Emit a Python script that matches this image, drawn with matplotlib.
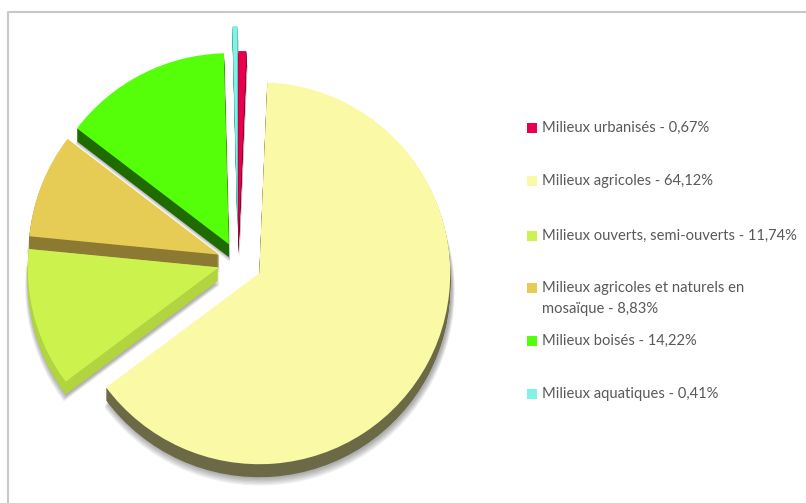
import matplotlib
matplotlib.use("Agg")
import matplotlib.pyplot as plt

# land cover shares (%)
labels = ["Milieux urbanisés", "Milieux agricoles", "Milieux ouverts, semi-ouverts",
          "Milieux agricoles et naturels en\nmosaïque", "Milieux boisés", "Milieux aquatiques"]
shares = [0.67, 64.12, 11.74, 8.83, 14.22, 0.41]
share_txt = ["0,67%", "64,12%", "11,74%", "8,83%", "14,22%", "0,41%"]

top_colors = ["#E6004D", "#FAFAA6", "#CCF24D", "#E6CC55", "#55FF0A", "#80F2E6"]
side_colors = ["#8A0030", "#6C6A46", "#B2D440", "#8C7A33", "#1F6B00", "#4FA89E"]
explode = [20, 24, 20, 20, 20, 45]

W, H = 806, 503
fig = plt.figure(figsize=(W / 100, H / 100), dpi=100)
ax = fig.add_axes([0, 0, 1, 1])

cx, cy, r = 238, H - 262, 191
depth = 13

# outer frame
ax.plot([8, 8, W], [0, H - 12, H - 12], color="#C8C8C8", lw=1.5)

# soft drop shadow
for s in range(1, 7):
    ax.pie(shares, explode=explode, startangle=90, counterclock=False,
           center=(cx + 1, cy - depth - s * 0.8), radius=r + s * 0.6,
           colors=["black"] * len(shares), wedgeprops=dict(alpha=0.06, lw=0),
           frame=False)

# extruded sides
for k in range(depth, 0, -1):
    ax.pie(shares, explode=explode, startangle=90, counterclock=False,
           center=(cx, cy - k), radius=r, colors=side_colors,
           wedgeprops=dict(lw=0), frame=False)

# top faces
ax.pie(shares, explode=explode, startangle=90, counterclock=False,
       center=(cx, cy), radius=r, colors=top_colors,
       wedgeprops=dict(lw=0), frame=False)

ax.set_xlim(0, W)
ax.set_ylim(0, H)
ax.set_aspect("equal")
ax.axis("off")

# legend
rows_y = [128, 181, 236, 288, 341, 394]
for lab, pct, col, y in zip(labels, share_txt, top_colors, rows_y):
    ax.add_patch(plt.Rectangle((527, H - y - 5), 10, 10, color=col, lw=0))
    lines = f"{lab} - {pct}".split("\n")
    for i, line in enumerate(lines):
        ax.text(542, H - y - 21 * i, line, fontsize=10.6, family="Lato",
                color="#595959", va="center", ha="left")

fig.savefig("out.png", dpi=100)
